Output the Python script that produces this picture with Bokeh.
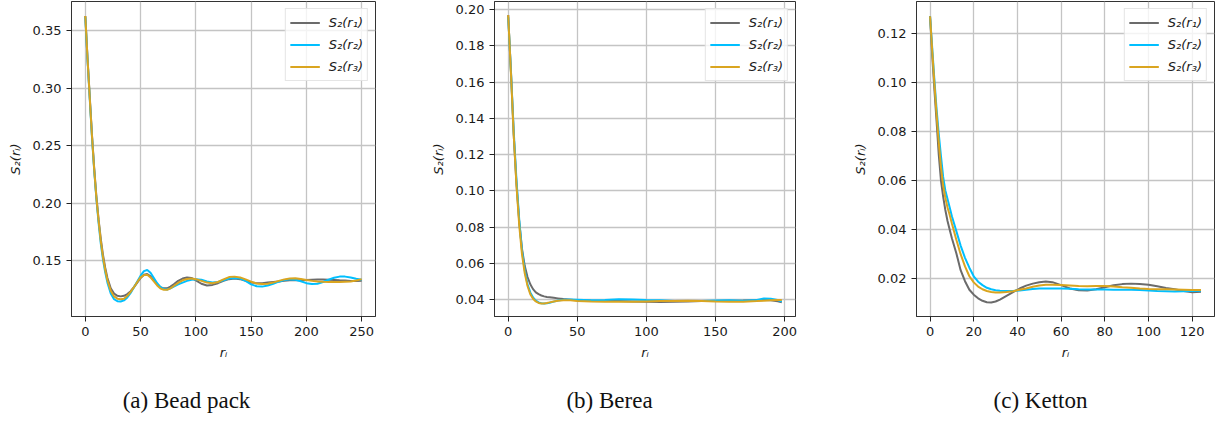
from bokeh.plotting import figure
from bokeh.models import Range1d, FixedTicker, NumeralTickFormatter, Legend, LegendItem
from bokeh.layouts import row, column
from bokeh.core.properties import value
from bokeh.embed import file_html
from bokeh.resources import INLINE

# ---------------- data ----------------
# (a) Bead pack
bead_r = [0, 2, 4, 6, 8, 10, 12, 14, 16, 18, 20, 23, 26, 29, 32, 35, 38, 41, 44, 47, 50,
          53, 56, 59, 62, 65, 68, 71, 74, 77, 80, 84, 88, 92, 96, 100, 105, 110, 115, 120,
          125, 130, 135, 140, 145, 150, 155, 160, 165, 170, 175, 180, 185, 190, 195, 200,
          205, 210, 215, 220, 225, 230, 235, 240, 245, 250]
bead_s1 = [0.363, 0.326, 0.293, 0.260, 0.231, 0.206, 0.186, 0.169, 0.155, 0.144, 0.135,
           0.126, 0.1215, 0.1195, 0.119, 0.1195, 0.121, 0.1235, 0.127, 0.131, 0.135,
           0.1378, 0.1385, 0.1365, 0.133, 0.1295, 0.127, 0.126, 0.126, 0.1275, 0.1295,
           0.1325, 0.1345, 0.1355, 0.135, 0.133, 0.130, 0.1285, 0.129, 0.1305,
           0.1325, 0.134, 0.1345, 0.134, 0.1325, 0.131, 0.1305, 0.1305, 0.131, 0.1315,
           0.132, 0.1325, 0.133, 0.133, 0.133, 0.1332, 0.1335, 0.1337, 0.1337, 0.1335,
           0.1333, 0.133, 0.1328, 0.1325, 0.1323, 0.1325]
bead_s2 = [0.362, 0.325, 0.291, 0.258, 0.229, 0.204, 0.183, 0.165, 0.151, 0.140, 0.131,
           0.1215, 0.1165, 0.1148, 0.1145, 0.1155, 0.118, 0.122, 0.127, 0.132, 0.137,
           0.141, 0.142, 0.1395, 0.135, 0.1305, 0.127, 0.1255, 0.125, 0.126, 0.1275,
           0.1295, 0.131, 0.1325, 0.1335, 0.134, 0.1335, 0.132, 0.131, 0.1315,
           0.133, 0.1345, 0.135, 0.1345, 0.1325, 0.1295, 0.1278, 0.1275, 0.1285, 0.130,
           0.1318, 0.1332, 0.1338, 0.1335, 0.1322, 0.1305, 0.1297, 0.130, 0.1315, 0.1335,
           0.1352, 0.1362, 0.1362, 0.1355, 0.1343, 0.1335]
bead_s3 = [0.363, 0.326, 0.292, 0.259, 0.230, 0.205, 0.185, 0.167, 0.153, 0.142, 0.133,
           0.124, 0.119, 0.117, 0.1165, 0.117, 0.1195, 0.123, 0.127, 0.1315, 0.1355,
           0.1375, 0.1378, 0.1355, 0.132, 0.1285, 0.1258, 0.1248, 0.1248, 0.126, 0.128,
           0.1308, 0.133, 0.1342, 0.1345, 0.134, 0.1325, 0.131, 0.1305, 0.1315,
           0.1338, 0.1358, 0.1362, 0.1355, 0.1338, 0.1318, 0.1302, 0.1297, 0.130, 0.131,
           0.1325, 0.1338, 0.1345, 0.1347, 0.1342, 0.1333, 0.1325, 0.132, 0.1317, 0.1315,
           0.1315, 0.1316, 0.1318, 0.132, 0.1328, 0.134]

# (b) Berea
berea_r = [0, 2, 4, 6, 8, 10, 12, 14, 16, 18, 20, 22, 24, 26, 28, 30, 33, 36, 40, 45, 50,
           60, 70, 80, 90, 100, 110, 120, 130, 140, 150, 160, 170, 180, 185, 190, 195, 198]
berea_s1 = [0.197, 0.166, 0.131, 0.104, 0.083, 0.068, 0.0585, 0.0525, 0.0485, 0.0458, 0.044,
            0.043, 0.0423, 0.0418, 0.0415, 0.0413, 0.041, 0.0407, 0.0403, 0.040, 0.0397,
            0.0394, 0.0393, 0.0392, 0.039, 0.0388, 0.0387, 0.0388, 0.039, 0.0392, 0.0393,
            0.0394, 0.0395, 0.0397, 0.0398, 0.0396, 0.0391, 0.0386]
berea_s2 = [0.196, 0.166, 0.133, 0.106, 0.084, 0.067, 0.056, 0.0485, 0.044, 0.0412, 0.0395,
            0.0385, 0.038, 0.0379, 0.038, 0.0383, 0.0389, 0.0395, 0.0399, 0.0401, 0.040,
            0.0397, 0.0398, 0.0402, 0.0401, 0.0398, 0.0396, 0.0393, 0.0392, 0.0393, 0.0395,
            0.0396, 0.0394, 0.0398, 0.0406, 0.0405, 0.0398, 0.039]
berea_s3 = [0.197, 0.165, 0.131, 0.103, 0.081, 0.065, 0.0545, 0.0475, 0.043, 0.0405, 0.039,
            0.0382, 0.0379, 0.0379, 0.0381, 0.0385, 0.039, 0.0394, 0.0396, 0.0396, 0.0393,
            0.039, 0.0389, 0.0388, 0.0388, 0.039, 0.0392, 0.0393, 0.0394, 0.0392, 0.039,
            0.0389, 0.0389, 0.0392, 0.0394, 0.0396, 0.0398, 0.0398]

# (c) Ketton
ketton_r = [0, 1, 2, 3, 4, 5, 6, 7, 8, 9, 10, 12, 14, 16, 18, 20, 22, 24, 26, 28, 30, 32,
            35, 38, 41, 44, 47, 50, 53, 56, 60, 64, 68, 72, 76, 80, 84, 88, 92, 96, 100,
            104, 108, 112, 116, 120, 124]
ketton_s1 = [0.127, 0.111, 0.097, 0.084, 0.0705, 0.060, 0.0535, 0.048, 0.0435, 0.040, 0.0365,
             0.0305, 0.0235, 0.019, 0.0155, 0.0135, 0.012, 0.011, 0.0104, 0.0103, 0.0107,
             0.0115, 0.013, 0.0145, 0.016, 0.0172, 0.018, 0.0186, 0.0189, 0.0186, 0.0174,
             0.016, 0.0153, 0.0152, 0.0157, 0.0165, 0.0173, 0.0178, 0.018, 0.0178, 0.0175,
             0.0169, 0.0162, 0.0157, 0.015, 0.0145, 0.0147]
ketton_s2 = [0.127, 0.114, 0.101, 0.089, 0.079, 0.070, 0.0615, 0.056, 0.0525, 0.049, 0.0455,
             0.0395, 0.0335, 0.0285, 0.0245, 0.021, 0.0188, 0.0174, 0.0163, 0.0157, 0.0153,
             0.0151, 0.015, 0.015, 0.0152, 0.0155, 0.0158, 0.016, 0.016, 0.016, 0.016,
             0.0159, 0.0157, 0.0156, 0.0156, 0.0156, 0.0155, 0.0155, 0.0155, 0.0154, 0.0152,
             0.015, 0.0149, 0.0148, 0.0149, 0.015, 0.0151]
ketton_s3 = [0.127, 0.113, 0.0995, 0.087, 0.0755, 0.0655, 0.058, 0.053, 0.049, 0.046, 0.0425,
             0.036, 0.030, 0.025, 0.021, 0.0185, 0.0168, 0.0157, 0.015, 0.0146, 0.0144,
             0.0144, 0.0146, 0.0149, 0.0155, 0.016, 0.0167, 0.0172, 0.0175, 0.0175, 0.0174,
             0.0172, 0.017, 0.0169, 0.017, 0.017, 0.0168, 0.0165, 0.0163, 0.016, 0.0158,
             0.0157, 0.0157, 0.0156, 0.0155, 0.0154, 0.0154]

series_labels = ["S₂(r₁)", "S₂(r₂)", "S₂(r₃)"]
captions = ["(a) Bead pack", "(b) Berea", "(c) Ketton"]
x_label = "rᵢ"
y_label = "S₂(rᵢ)"

COLORS = ["#6b6b6b", "#00bfff", "#daa520"]
FONT = "DejaVu Sans"
TOP_H = 363


def panel(r, s1, s2, s3, width, left, right, xr, yr, xticks, yticks):
    p = figure(width=width, height=TOP_H, output_backend="svg", toolbar_location=None,
               x_range=Range1d(*xr), y_range=Range1d(*yr),
               min_border_left=left, min_border_right=right,
               min_border_top=1, min_border_bottom=47)
    p.background_fill_color = "white"
    p.border_fill_color = "white"
    p.outline_line_color = "#333333"
    p.outline_line_width = 1
    for g in (p.xgrid[0], p.ygrid[0]):
        g.grid_line_color = "#c4c4c4"
        g.grid_line_width = 1.3
    p.xaxis.ticker = FixedTicker(ticks=xticks)
    p.yaxis.ticker = FixedTicker(ticks=yticks)
    p.yaxis.formatter = NumeralTickFormatter(format="0.00")
    for ax in (p.xaxis[0], p.yaxis[0]):
        ax.axis_line_color = "#333333"
        ax.major_tick_line_color = "#222222"
        ax.major_tick_out = 5
        ax.major_tick_in = 0
        ax.minor_tick_line_color = None
        ax.major_label_text_font = FONT
        ax.major_label_text_font_size = "13px"
        ax.major_label_text_color = "#1a1a1a"
        ax.axis_label_text_font = FONT
        ax.axis_label_text_font_size = "13px"
        ax.axis_label_text_font_style = "italic"
        ax.axis_label_text_color = "#1a1a1a"
    p.xaxis.axis_label = x_label
    p.yaxis.axis_label = y_label
    p.xaxis.major_label_standoff = 5
    p.xaxis.axis_label_standoff = 6
    p.yaxis.major_label_standoff = 5
    p.yaxis.axis_label_standoff = 7

    items = []
    for s, c, lab in zip((s1, s2, s3), COLORS, series_labels):
        rr = p.line(r, s, line_color=c, line_width=2)
        items.append(LegendItem(label=lab, renderers=[rr]))
    leg = Legend(items=items, location="top_right")
    leg.margin = 7
    leg.padding = 4
    leg.spacing = 3
    leg.label_height = 19
    leg.glyph_height = 19
    leg.glyph_width = 30
    leg.label_standoff = 9
    leg.label_text_font = FONT
    leg.label_text_font_size = "13px"
    leg.label_text_font_style = "italic"
    leg.label_text_color = "#1a1a1a"
    leg.border_line_color = "#cccccc"
    leg.border_line_width = 1
    leg.background_fill_alpha = 0.8
    p.add_layout(leg, "center")
    return p


p1 = panel(bead_r, bead_s1, bead_s2, bead_s3, 414, 71, 39,
           (-12.5, 262.5), (0.1015, 0.3756), [0, 50, 100, 150, 200, 250],
           [0.15, 0.20, 0.25, 0.30, 0.35])
p2 = panel(berea_r, berea_s1, berea_s2, berea_s3, 414, 80, 33,
           (-9.9, 207.9), (0.0307, 0.2045), [0, 50, 100, 150, 200],
           [0.04, 0.06, 0.08, 0.10, 0.12, 0.14, 0.16, 0.18, 0.20])
p3 = panel(ketton_r, ketton_s1, ketton_s2, ketton_s3, 388, 88, 2,
           (-6.2, 130.2), (0.0046, 0.1330), [0, 20, 40, 60, 80, 100, 120],
           [0.02, 0.04, 0.06, 0.08, 0.10, 0.12])

# caption strip (no axes at all, frame fills the canvas)
CAP_H = 416 - TOP_H
cap = figure(width=1216, height=CAP_H, output_backend="svg", toolbar_location=None,
             x_range=Range1d(0, 1216), y_range=Range1d(0, CAP_H),
             x_axis_location=None, y_axis_location=None,
             min_border=0, title=None)
cap.grid.visible = False
cap.outline_line_color = None
cap.background_fill_color = "white"
cap.border_fill_color = "white"
cap_x = [186, 609, 1040]
cap_y = [16, 16, 16]
cap.text(x=cap_x, y=cap_y, text=captions, text_font=value("Liberation Serif"),
         text_font_size="23px", text_align="center", text_baseline="middle",
         text_color="#111111")

layout = column(row(p1, p2, p3, spacing=0), cap, spacing=0)

open("out.html", "w").write(file_html(layout, INLINE))
